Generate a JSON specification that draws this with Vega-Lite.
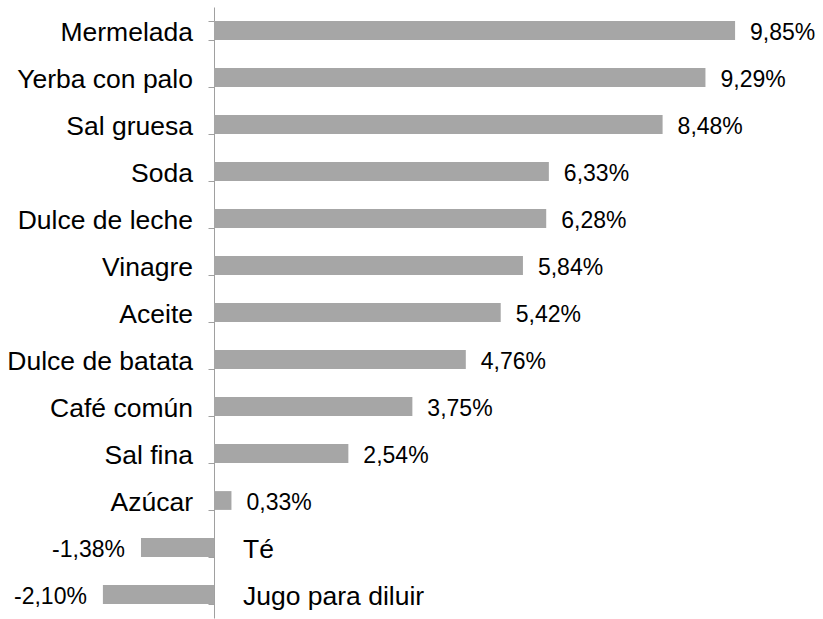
{
  "$schema": "https://vega.github.io/schema/vega-lite/v6.json",
  "width": 823,
  "height": 611,
  "autosize": {"type": "none"},
  "padding": {"left": 0, "top": 7, "right": 0, "bottom": 1},
  "config": {
    "view": {"stroke": null},
    "locale": {"number": {"decimal": ",", "thousands": ".", "grouping": [3], "currency": ["", "€"], "minus": "-"}},
    "text": {"font": "Liberation Sans", "color": "#000000"}
  },
  "data": {
    "values": [
      {"producto": "Mermelada", "v": 0.0985},
      {"producto": "Yerba con palo", "v": 0.0929},
      {"producto": "Sal gruesa", "v": 0.0848},
      {"producto": "Soda", "v": 0.0633},
      {"producto": "Dulce de leche", "v": 0.0628},
      {"producto": "Vinagre", "v": 0.0584},
      {"producto": "Aceite", "v": 0.0542},
      {"producto": "Dulce de batata", "v": 0.0476},
      {"producto": "Café común", "v": 0.0375},
      {"producto": "Sal fina", "v": 0.0254},
      {"producto": "Azúcar", "v": 0.0033},
      {"producto": "Té", "v": -0.0138},
      {"producto": "Jugo para diluir", "v": -0.021}
    ]
  },
  "encoding": {
    "y": {
      "field": "producto",
      "type": "nominal",
      "sort": null,
      "scale": {"paddingInner": 0.6, "paddingOuter": 0.3},
      "axis": {
        "title": null,
        "labels": false,
        "offset": -214,
        "tickBand": "extent",
        "tickSize": 6,
        "tickColor": "#a0a0a0",
        "domainColor": "#a0a0a0",
        "tickWidth": 1,
        "domainWidth": 1
      }
    }
  },
  "layer": [
    {
      "mark": {"type": "bar", "color": "#a6a6a6"},
      "encoding": {
        "x": {
          "field": "v",
          "type": "quantitative",
          "scale": {"domain": [-0.04045, 0.11512], "nice": false, "zero": false},
          "axis": null
        }
      }
    },
    {
      "transform": [{"filter": "datum.v >= 0"}],
      "mark": {"type": "text", "align": "left", "baseline": "middle", "dx": 15, "dy": 2, "fontSize": 23},
      "encoding": {
        "x": {"field": "v", "type": "quantitative"},
        "text": {"field": "v", "type": "quantitative", "format": ".2%"}
      }
    },
    {
      "transform": [{"filter": "datum.v < 0"}],
      "mark": {"type": "text", "align": "right", "baseline": "middle", "dx": -16, "dy": 2, "fontSize": 23},
      "encoding": {
        "x": {"field": "v", "type": "quantitative"},
        "text": {"field": "v", "type": "quantitative", "format": ".2%"}
      }
    },
    {
      "transform": [{"filter": "datum.v >= 0"}],
      "mark": {"type": "text", "align": "right", "baseline": "middle", "dx": -21, "dy": 2, "fontSize": 26.5},
      "encoding": {
        "x": {"datum": 0, "type": "quantitative"},
        "text": {"field": "producto"}
      }
    },
    {
      "transform": [{"filter": "datum.v < 0"}],
      "mark": {"type": "text", "align": "left", "baseline": "middle", "dx": 29, "dy": 2, "fontSize": 26.5},
      "encoding": {
        "x": {"datum": 0, "type": "quantitative"},
        "text": {"field": "producto"}
      }
    }
  ]
}
